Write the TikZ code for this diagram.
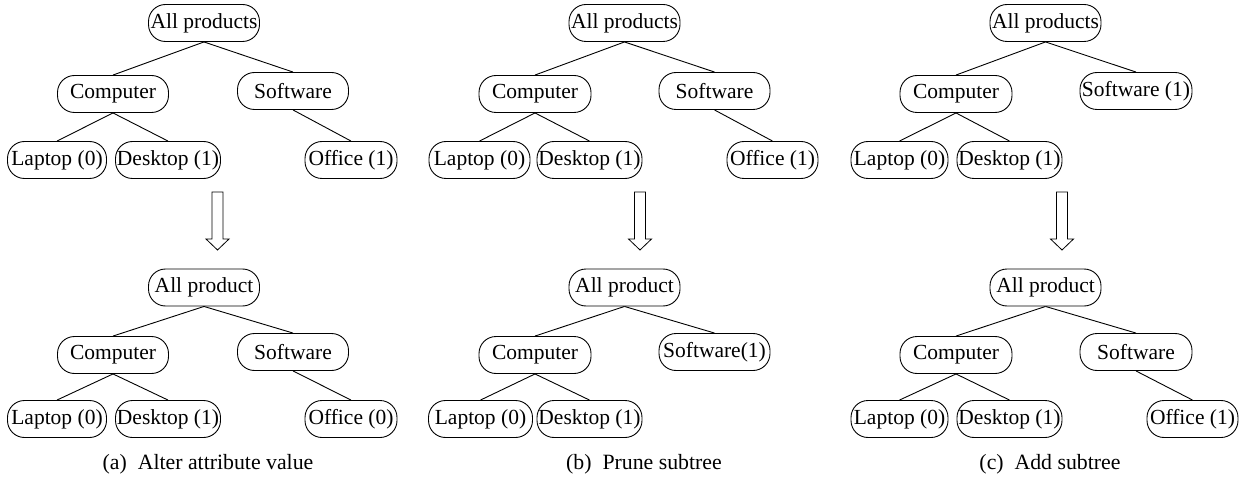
\documentclass[tikz,border=0pt]{standalone}
\usepackage{fontspec}
\setmainfont{Liberation Serif}
\begin{document}
\begin{tikzpicture}[x=1pt,y=-1pt,
  every path/.style={line width=0.9pt},
  tnode/.style={draw, rounded corners=17pt, minimum height=37pt, inner xsep=0pt, inner ysep=0pt,
    font=\fontsize{21.5}{23}\selectfont},
  link/.style={draw, line width=0.9pt},
  caption/.style={font=\fontsize{21.8}{24}\selectfont},
  hollow arrow/.pic={\draw[line width=0.8pt, line join=miter] (-5.5,0) -- (-5.5,47) -- (-11.5,47) -- (0,58) -- (11.5,47) -- (5.5,47) -- (5.5,0) -- cycle;}
]
\useasboundingbox (0,0) rectangle (1246,478);

% ---------- (a) Alter attribute value ----------
\node[tnode, minimum width=111pt] (aA) at (204,23) {All products};
\node[tnode, minimum width=111pt] (aC) at (113,94) {Computer};
\node[tnode, minimum width=111pt] (aS) at (293,91) {Software};
\node[tnode, minimum width=99pt]  (aL) at (57,160) {Laptop (0)};
\node[tnode, minimum width=105pt] (aD) at (168,160) {Desktop (1)};
\node[tnode, minimum width=92pt]  (aO) at (351,160) {Office (1)};
\draw[link] (aA.south) -- (aC.north);
\draw[link] (aA.south) -- (aS.north);
\draw[link] (aC.south) -- (aL.north);
\draw[link] (aC.south) -- (aD.north);
\draw[link] (aS.south) -- (aO.north);
\pic at (217.5,192) {hollow arrow};
\node[tnode, minimum width=111pt] (bA) at (204,287.5) {All product};
\node[tnode, minimum width=111pt] (bC) at (113,355) {Computer};
\node[tnode, minimum width=111pt] (bS) at (293,352) {Software};
\node[tnode, minimum width=99pt]  (bL) at (57,419) {Laptop (0)};
\node[tnode, minimum width=105pt] (bD) at (168,419) {Desktop (1)};
\node[tnode, minimum width=92pt]  (bO) at (351,419) {Office (0)};
\draw[link] (bA.south) -- (bC.north);
\draw[link] (bA.south) -- (bS.north);
\draw[link] (bC.south) -- (bL.north);
\draw[link] (bC.south) -- (bD.north);
\draw[link] (bS.south) -- (bO.north);
\node[caption] (capa) at (208,464) {(a)\ \ Alter attribute value};

% ---------- (b) Prune subtree ----------
\node[tnode, minimum width=111pt] (cA) at (624.5,23) {All products};
\node[tnode, minimum width=112pt] (cC) at (535,94) {Computer};
\node[tnode, minimum width=111pt] (cS) at (714.5,91) {Software};
\node[tnode, minimum width=101pt] (cL) at (479.5,160) {Laptop (0)};
\node[tnode, minimum width=105pt] (cD) at (589.5,160) {Desktop (1)};
\node[tnode, minimum width=91pt]  (cO) at (772.5,160) {Office (1)};
\draw[link] (cA.south) -- (cC.north);
\draw[link] (cA.south) -- (cS.north);
\draw[link] (cC.south) -- (cL.north);
\draw[link] (cC.south) -- (cD.north);
\draw[link] (cS.south) -- (cO.north);
\pic at (640,192) {hollow arrow};
\node[tnode, minimum width=111pt] (dA) at (624.5,287.5) {All product};
\node[tnode, minimum width=112pt] (dC) at (535,355) {Computer};
\node[tnode, minimum width=111pt] (dS) at (714.5,352) {Software(1)};
\node[tnode, minimum width=104pt] (dL) at (480.5,419) {Laptop (0)};
\node[tnode, minimum width=105pt] (dD) at (589.5,419) {Desktop (1)};
\draw[link] (dA.south) -- (dC.north);
\draw[link] (dA.south) -- (dS.north);
\draw[link] (dC.south) -- (dL.north);
\draw[link] (dC.south) -- (dD.north);
\node[caption] (capb) at (644,464) {(b)\ \ Prune subtree};

% ---------- (c) Add subtree ----------
\node[tnode, minimum width=111pt] (eA) at (1045.5,23) {All products};
\node[tnode, minimum width=112pt] (eC) at (956,94) {Computer};
\node[tnode, minimum width=112pt] (eS) at (1136,91) {Software (1)};
\node[tnode, minimum width=97pt]  (eL) at (899.5,160) {Laptop (0)};
\node[tnode, minimum width=105pt] (eD) at (1009.5,160) {Desktop (1)};
\draw[link] (eA.south) -- (eC.north);
\draw[link] (eA.south) -- (eS.north);
\draw[link] (eC.south) -- (eL.north);
\draw[link] (eC.south) -- (eD.north);
\pic at (1062,192) {hollow arrow};
\node[tnode, minimum width=111pt] (fA) at (1045.5,287.5) {All product};
\node[tnode, minimum width=112pt] (fC) at (956,355) {Computer};
\node[tnode, minimum width=112pt] (fS) at (1136,352) {Software};
\node[tnode, minimum width=97pt]  (fL) at (899.5,419) {Laptop (0)};
\node[tnode, minimum width=105pt] (fD) at (1009.5,419) {Desktop (1)};
\node[tnode, minimum width=91pt]  (fO) at (1192.5,419) {Office (1)};
\draw[link] (fA.south) -- (fC.north);
\draw[link] (fA.south) -- (fS.north);
\draw[link] (fC.south) -- (fL.north);
\draw[link] (fC.south) -- (fD.north);
\draw[link] (fS.south) -- (fO.north);
\node[caption] (capc) at (1050,464) {(c)\ \ Add subtree};
\end{tikzpicture}
\end{document}
